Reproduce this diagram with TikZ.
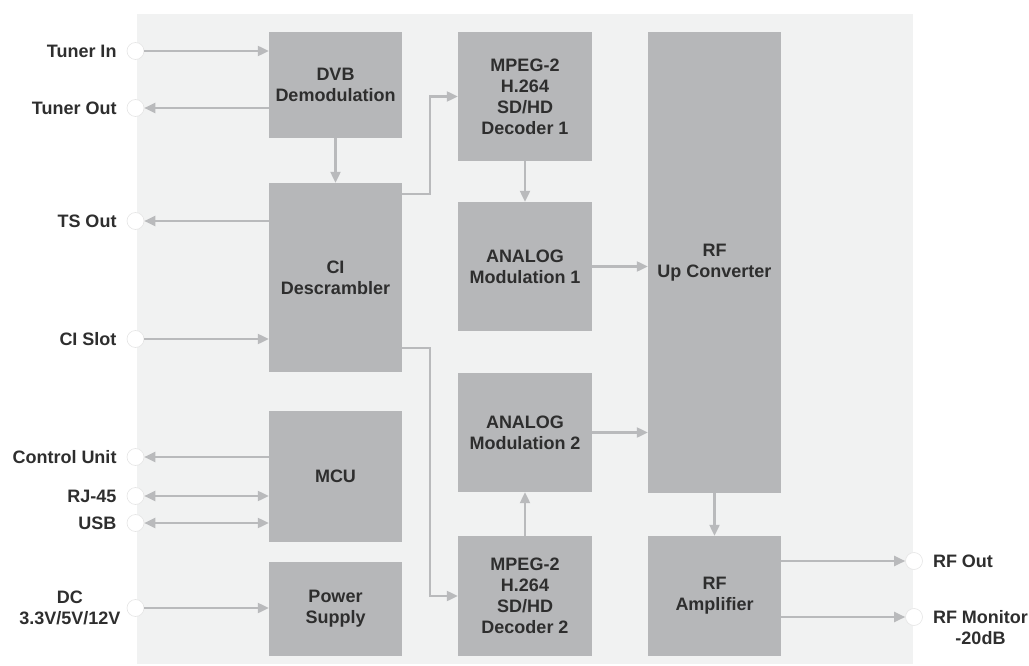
\documentclass[tikz,border=0pt]{standalone}
\usepackage{xcolor}
\usepackage{fontspec}
\setmainfont{Liberation Sans}
\usepackage{tikz}
\usetikzlibrary{positioning,arrows.meta}

\definecolor{panelgray}{HTML}{F1F2F2}
\definecolor{boxgray}{HTML}{B6B7B9}
\definecolor{linegray}{HTML}{B9BABC}
\definecolor{textgray}{HTML}{2E2E2E}

\tikzset{
  blk/.style={fill=boxgray, text=textgray, align=center, inner sep=0,
    font=\bfseries\fontsize{18bp}{21bp}\selectfont},
  port/.style={circle, fill=white, draw=black!10, line width=0.6bp,
    minimum size=17bp, inner sep=0},
  lbl/.style={text=textgray, align=center, inner sep=0,
    font=\bfseries\fontsize{18bp}{21bp}\selectfont},
  sig/.style={line width=2.2bp, draw=linegray, -{Triangle[length=11bp,width=10bp]}},
  bisig/.style={sig, {Triangle[length=11bp,width=10bp]}-{Triangle[length=11bp,width=10bp]}},
}

\begin{document}
\begin{tikzpicture}[x=1bp, y=-1bp]

\useasboundingbox (0,0) rectangle (1029,666);
\fill[panelgray] (137,14) rectangle (913,664);

% blocks %
\node[blk, minimum width=133bp, minimum height=106bp] (dvb) at (335.5,85) {DVB\\Demodulation};
\node[blk, minimum width=133bp, minimum height=189bp] (ci) at (335.5,277.5) {CI\\Descrambler};
\node[blk, minimum width=133bp, minimum height=131bp] (mcu) at (335.5,476.5) {MCU};
\node[blk, minimum width=133bp, minimum height=94bp] (pwr) at (335.5,609) {Power\\Supply};

\node[blk, minimum width=134bp, minimum height=129bp] (dec1) at (525,96.5) {MPEG-2\\H.264\\SD/HD\\Decoder 1};
\node[blk, minimum width=134bp, minimum height=129bp] (an1) at (525,266.5) {ANALOG\\Modulation 1};
\node[blk, minimum width=134bp, minimum height=119bp] (an2) at (525,432.5) {ANALOG\\Modulation 2};
\node[blk, minimum width=134bp, minimum height=120bp] (dec2) at (525,596) {MPEG-2\\H.264\\SD/HD\\Decoder 2};

\node[blk, minimum width=133bp, minimum height=461bp] (up) at (714.5,262.5) {RF\\Up Converter};
\node[blk, minimum width=133bp, minimum height=120bp] (amp) at (714.5,596) {RF\\Amplifier};

% ports %
\node[port] (tin) at (135.5,51) {};
\node[port] (tout) at (135.5,108) {};
\node[port] (tsout) at (135.5,221) {};
\node[port] (cislot) at (135.5,339) {};
\node[port] (ctrl) at (135.5,457) {};
\node[port] (rj) at (135.5,496) {};
\node[port] (usb) at (135.5,523) {};
\node[port] (dc) at (135.5,608) {};
\node[port] (rfout) at (914,561) {};
\node[port] (rfmon) at (914,617) {};

% labels %
\node[lbl, left = 10bp of tin] (ltin) {Tuner In};
\node[lbl, left = 10bp of tout] (ltout) {Tuner Out};
\node[lbl, left = 10bp of tsout] (ltsout) {TS Out};
\node[lbl, left = 10bp of cislot] (lcislot) {CI Slot};
\node[lbl, left = 10bp of ctrl] (lctrl) {Control Unit};
\node[lbl, left = 10bp of rj] (lrj) {RJ-45};
\node[lbl, left = 10bp of usb] (lusb) {USB};
\node[lbl, left = 6bp of dc] (ldc) {DC\\3.3V/5V/12V};
\node[lbl, right = 10bp of rfout] (lrfout) {RF Out};
\node[lbl, right = 10bp of rfmon, yshift=-10.5bp] (lrfmon) {RF Monitor\\-20dB};

% edges %

%DVB%
\draw[sig] (tin) -- (tin -| dvb.west);
\draw[sig] (dvb.west |- tout) -- (tout);
\draw[sig] (dvb) -- (ci);

%CI%
\draw[sig] (ci.west |- tsout) -- (tsout);
\draw[sig] (cislot) -- (cislot -| ci.west);
\draw[sig] ([yshift=-11bp]ci.north east) -- ++(28,0) |- (dec1);
\draw[sig] ([yshift=24bp]ci.south east) -- ++(28,0) |- (dec2);

%decoders%
\draw[sig] (dec1) -- (an1);
\draw[sig] (dec2) -- (an2);
\draw[sig] (an1) -- (an1 -| up.west);
\draw[sig] (an2) -- (an2 -| up.west);

%RF%
\draw[sig] (up) -- (amp);
\draw[sig] (amp.east |- rfout) -- (rfout);
\draw[sig] (amp.east |- rfmon) -- (rfmon);

%MCU%
\draw[sig] (mcu.west |- ctrl) -- (ctrl);
\draw[bisig] (rj) -- (rj -| mcu.west);
\draw[bisig] (usb) -- (usb -| mcu.west);

%power%
\draw[sig] (dc) -- (dc -| pwr.west);

\end{tikzpicture}
\end{document}
